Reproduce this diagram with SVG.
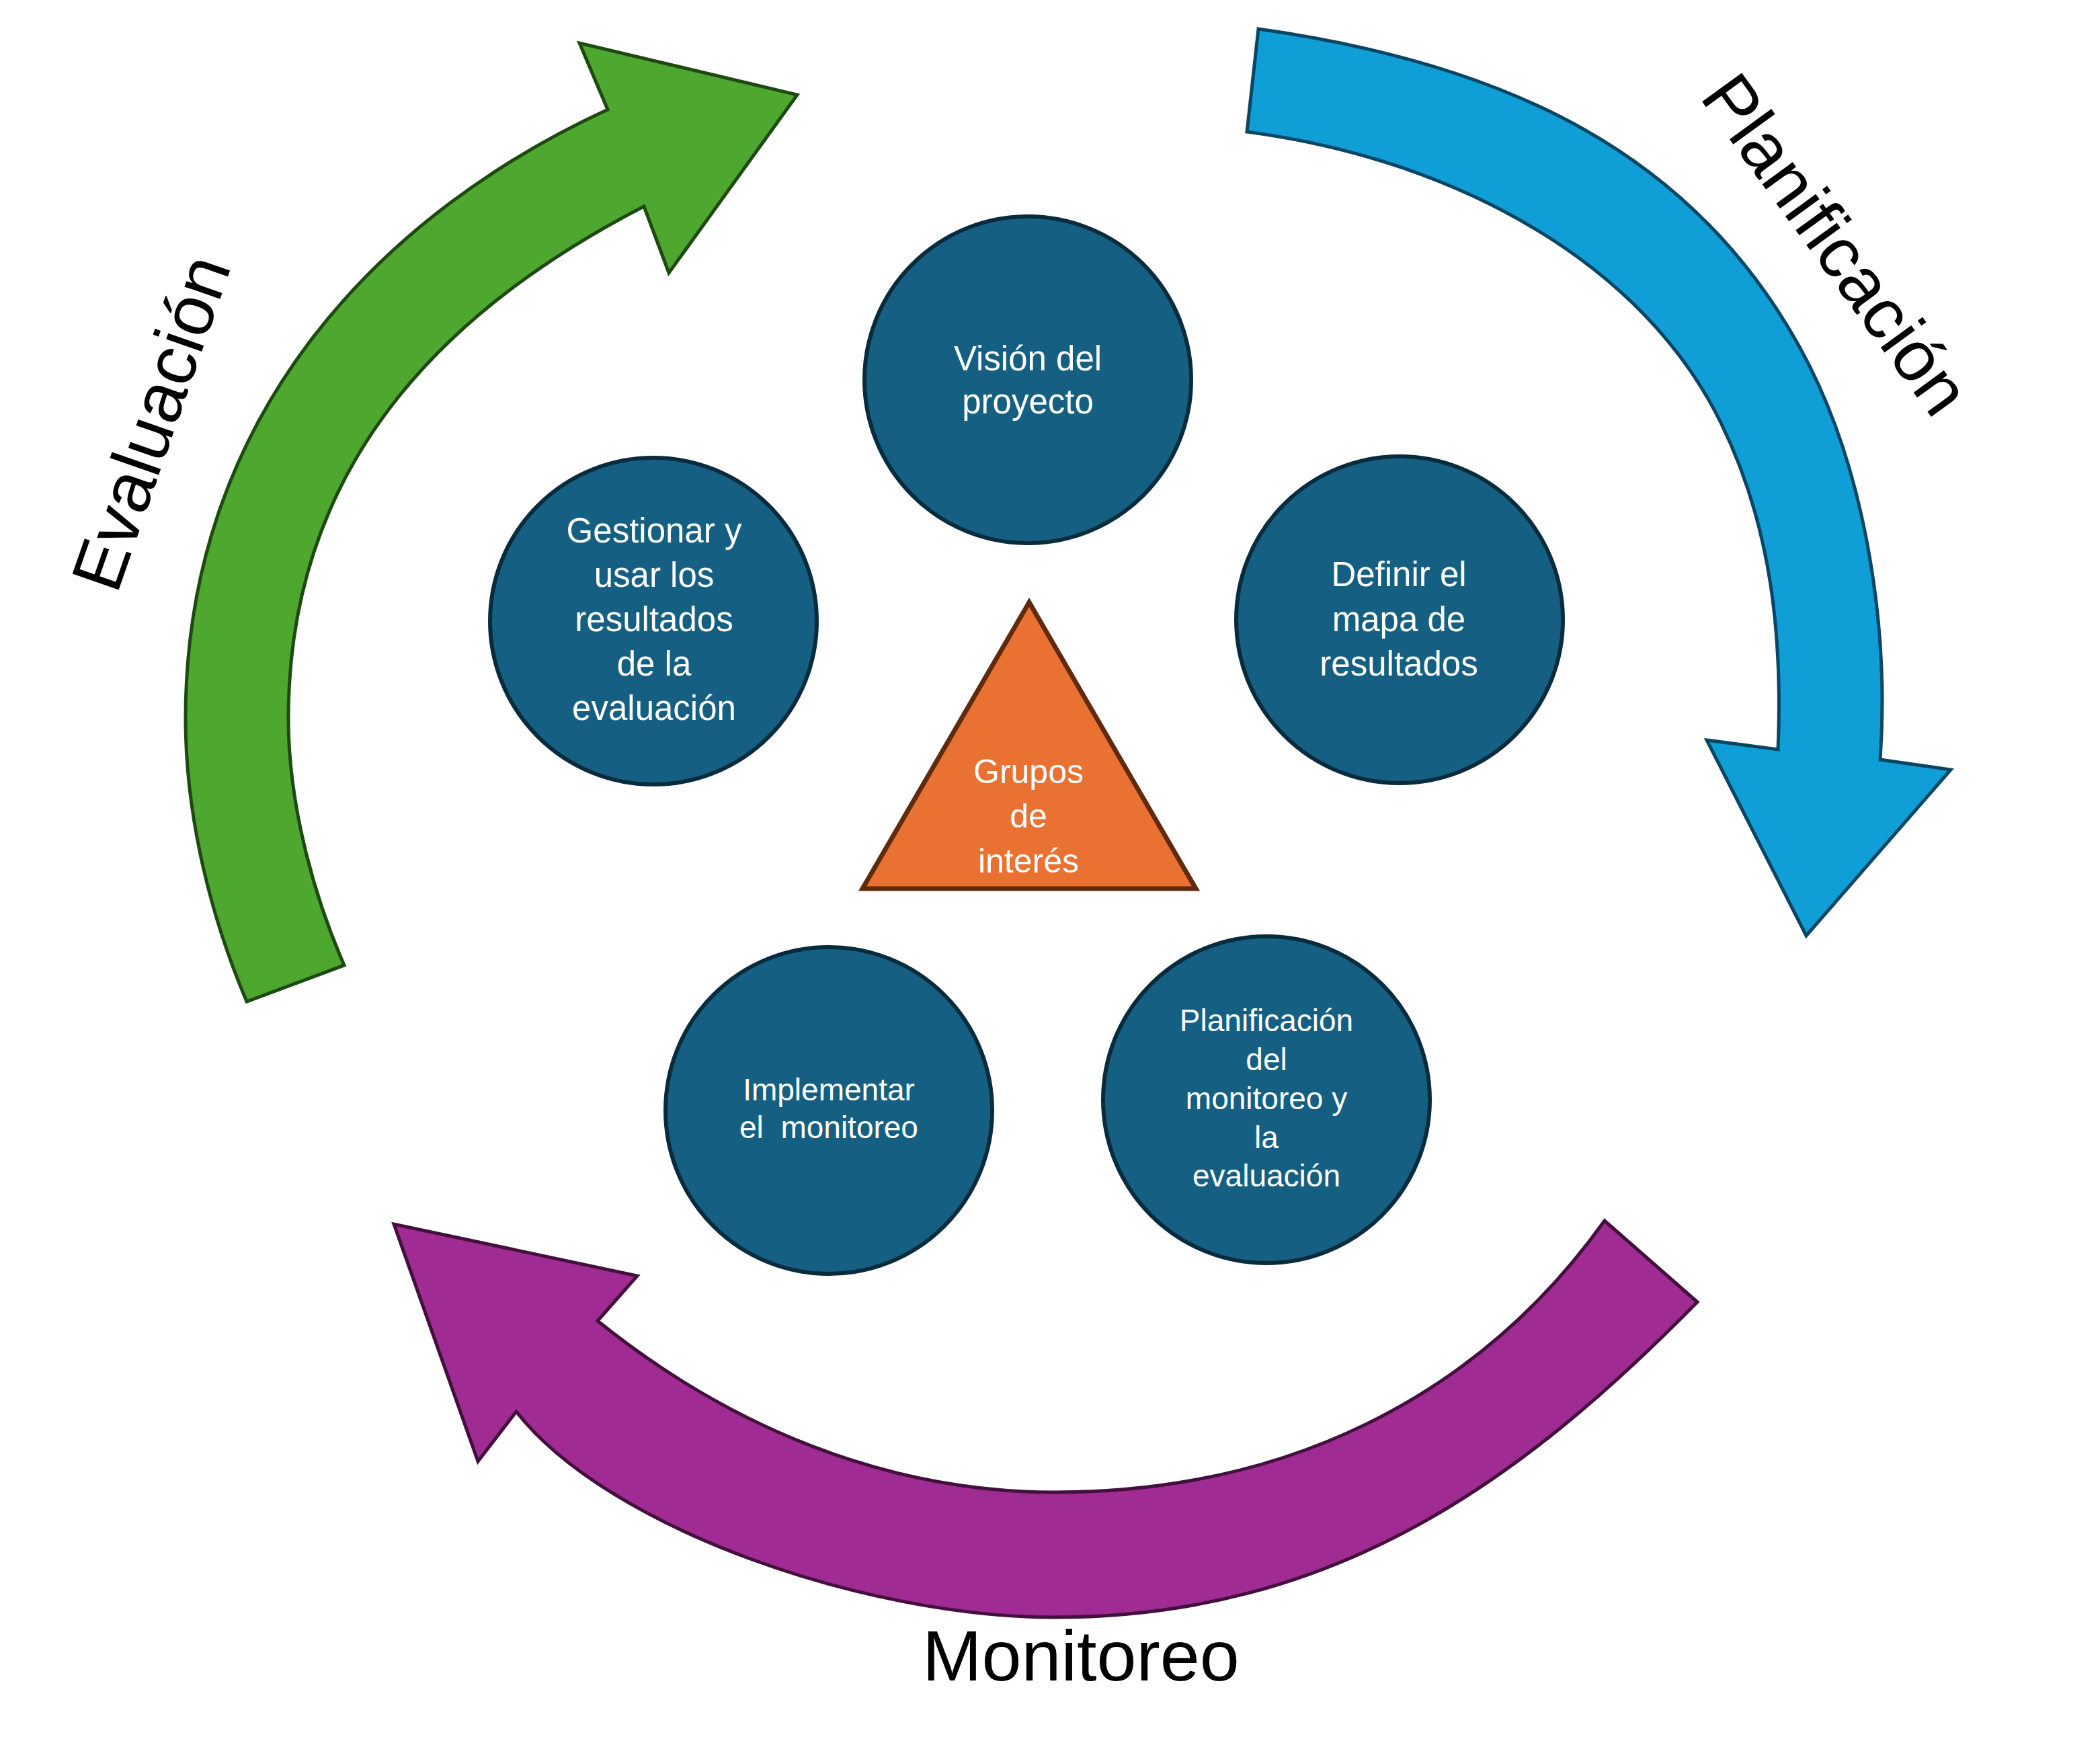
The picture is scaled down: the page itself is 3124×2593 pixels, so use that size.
<svg xmlns="http://www.w3.org/2000/svg" width="3124" height="2593" viewBox="0 0 3124 2593">
<style>
.node circle{fill:#156082;stroke:#082B3D;stroke-width:6}
.nt{font-family:"Liberation Sans",Arial,sans-serif;fill:#FFFFFF;text-anchor:middle}
.big{font-family:"Liberation Sans",Arial,sans-serif;fill:#000000;font-size:106px;text-anchor:middle}
.arrow{stroke-width:5;stroke-linejoin:miter}
</style>
<rect width="3124" height="2593" fill="#FFFFFF"/>
<g id="connectors">
  <g id="arrow-evaluacion">
    <path class="arrow" fill="#4EA72E" stroke="#1E4A12" d="M 367,1490 C 316,1370 276,1219 276,1069 C 276,609 576,314 904,163 L 862,64 L 1186,141 L 995,406 L 958,307 C 691,445 429,669 429,1069 C 429,1199 468,1335 512,1436 Z"/>
  </g>
  <g id="arrow-planificacion">
    <path class="arrow" fill="#0F9ED5" stroke="#0A4563" d="M 1872,43 C 2248,96 2520,231 2678,518 C 2774,692 2811,930 2797,1130 L 2902,1145 L 2687,1392 L 2539,1101 L 2645,1115 C 2652,945 2635,782 2560,629 C 2446,395 2172,238 1855,196 Z"/>
  </g>
  <g id="arrow-monitoreo">
    <path class="arrow" fill="#A02B93" stroke="#43103D" d="M 2525,1937 C 2266,2200 1988,2406 1568,2406 C 1288,2406 904,2274 768,2100 L 711,2174 L 586,1821 L 948,1898 L 889,1965 C 1084,2122 1318,2220 1568,2220 C 1908,2220 2196,2083 2387,1816 Z"/>
  </g>
</g>
<g id="label-evaluacion">
  <text class="big" transform="translate(259,641) rotate(-70.8)" x="0" y="0">Evaluación</text>
</g>
<g id="label-planificacion">
  <text class="big" transform="translate(2702,385) rotate(54)" x="0" y="0">Planificación</text>
</g>
<g id="label-monitoreo">
  <text class="big" x="1608" y="2500">Monitoreo</text>
</g>
<g id="node-vision" class="node">
  <circle cx="1529" cy="565" r="243"/>
  <text class="nt" font-size="51"><tspan x="1529" y="551">Visión del</tspan><tspan x="1529" y="615">proyecto</tspan></text>
</g>
<g id="node-gestionar" class="node">
  <circle cx="972" cy="924" r="243"/>
  <text class="nt" font-size="51"><tspan x="973" y="807">Gestionar y</tspan><tspan x="973" y="873">usar los</tspan><tspan x="973" y="939">resultados</tspan><tspan x="973" y="1005">de la</tspan><tspan x="973" y="1071">evaluación</tspan></text>
</g>
<g id="node-definir" class="node">
  <circle cx="2082" cy="922" r="243"/>
  <text class="nt" font-size="51"><tspan x="2081" y="872">Definir el</tspan><tspan x="2081" y="939">mapa de</tspan><tspan x="2081" y="1005">resultados</tspan></text>
</g>
<g id="node-implementar" class="node">
  <circle cx="1233" cy="1652" r="243"/>
  <text class="nt" font-size="46" xml:space="preserve"><tspan x="1233" y="1637">Implementar</tspan><tspan x="1233" y="1693">el  monitoreo</tspan></text>
</g>
<g id="node-planificacion-monitoreo" class="node">
  <circle cx="1884" cy="1636" r="243"/>
  <text class="nt" font-size="46"><tspan x="1884" y="1534">Planificación</tspan><tspan x="1884" y="1592">del</tspan><tspan x="1884" y="1650">monitoreo y</tspan><tspan x="1884" y="1708">la</tspan><tspan x="1884" y="1765">evaluación</tspan></text>
</g>
<g id="node-grupos">
  <polygon points="1531,896 1283,1322 1779,1322" fill="#E97132" stroke="#5F2A0E" stroke-width="7" stroke-linejoin="miter"/>
  <text class="nt" font-size="50"><tspan x="1530" y="1165">Grupos</tspan><tspan x="1530" y="1231">de</tspan><tspan x="1530" y="1298">interés</tspan></text>
</g>
</svg>
